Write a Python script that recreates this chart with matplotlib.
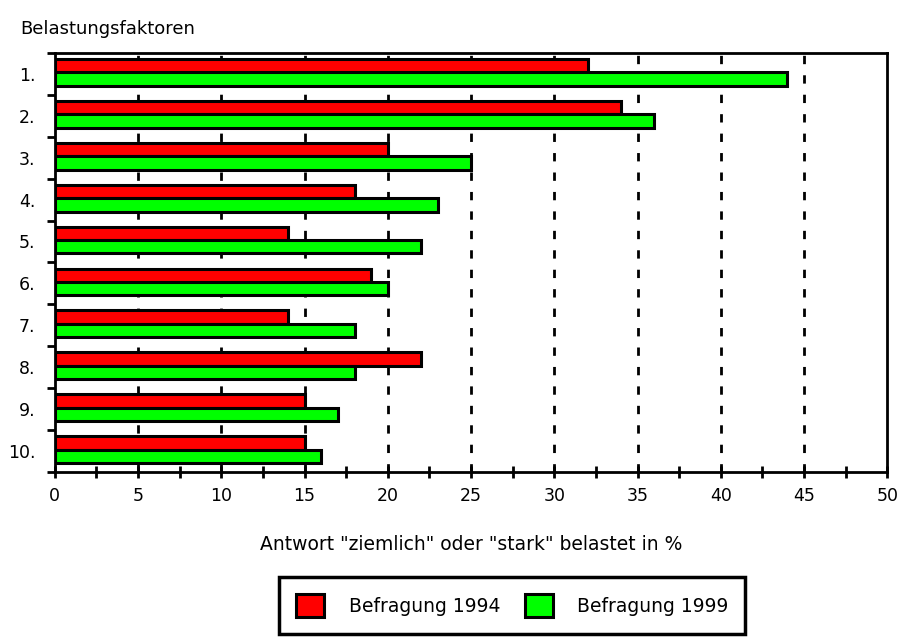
import numpy as np
import matplotlib
matplotlib.use('Agg')
import matplotlib.pyplot as plt
from matplotlib.patches import Patch
from matplotlib.ticker import MultipleLocator

# Data
categories = ['1.', '2.', '3.', '4.', '5.', '6.', '7.', '8.', '9.', '10.']
befragung_1994 = [32, 34, 20, 18, 14, 19, 14, 22, 15, 15]
befragung_1999 = [44, 36, 25, 23, 22, 20, 18, 18, 17, 16]

fig = plt.figure(figsize=(8.99, 6.37), dpi=100)
ax = fig.add_axes([0.061, 0.259, 0.926, 0.658])

y = np.arange(len(categories))
h = 0.32
ax.barh(y - h / 2 - 0.035, befragung_1994, height=h, color='#ff0000',
        edgecolor='black', linewidth=2.2, zorder=3)
ax.barh(y + h / 2 - 0.035, befragung_1999, height=h, color='#00ff00',
        edgecolor='black', linewidth=2.2, zorder=3)

ax.set_xlim(0, 50)
ax.set_ylim(len(categories) - 0.5, -0.5)

# dashed vertical gridlines
for gx in range(5, 50, 5):
    ax.axvline(gx, color='black', linewidth=2, linestyle=(0, (3, 4)), zorder=1)

ax.xaxis.set_major_locator(MultipleLocator(5))
ax.xaxis.set_minor_locator(MultipleLocator(2.5))
ax.tick_params(axis='x', which='both', direction='inout', length=9, width=2,
               labelsize=12.5, pad=6)
ax.set_yticks(y)
ax.set_yticklabels(categories, fontsize=12.5)
ax.tick_params(axis='y', which='major', length=0, pad=14)
ax.set_yticks(np.arange(-0.5, len(categories), 1), minor=True)
ax.tick_params(axis='y', which='minor', direction='out', length=6, width=2)

for s in ax.spines.values():
    s.set_linewidth(2)

ax.set_xlabel('Antwort "ziemlich" oder "stark" belastet in %', fontsize=13.5, labelpad=22)
fig.text(0.022, 0.955, 'Belastungsfaktoren', fontsize=13, ha='left', va='center')

handles = [Patch(facecolor='#ff0000', edgecolor='black', linewidth=2.2),
           Patch(facecolor='#00ff00', edgecolor='black', linewidth=2.2)]
leg = fig.legend(handles, ['Befragung 1994', 'Befragung 1999'], ncol=2,
                 loc='center', bbox_to_anchor=(0.57, 0.949 - 0.9), fontsize=13.5,
                 frameon=True, fancybox=False, edgecolor='black', framealpha=1,
                 handlelength=1.5, handleheight=1.5, columnspacing=1.3,
                 borderpad=0.9, handletextpad=1.3)
leg.get_frame().set_linewidth(2.5)

fig.savefig('out.png', dpi=100)
